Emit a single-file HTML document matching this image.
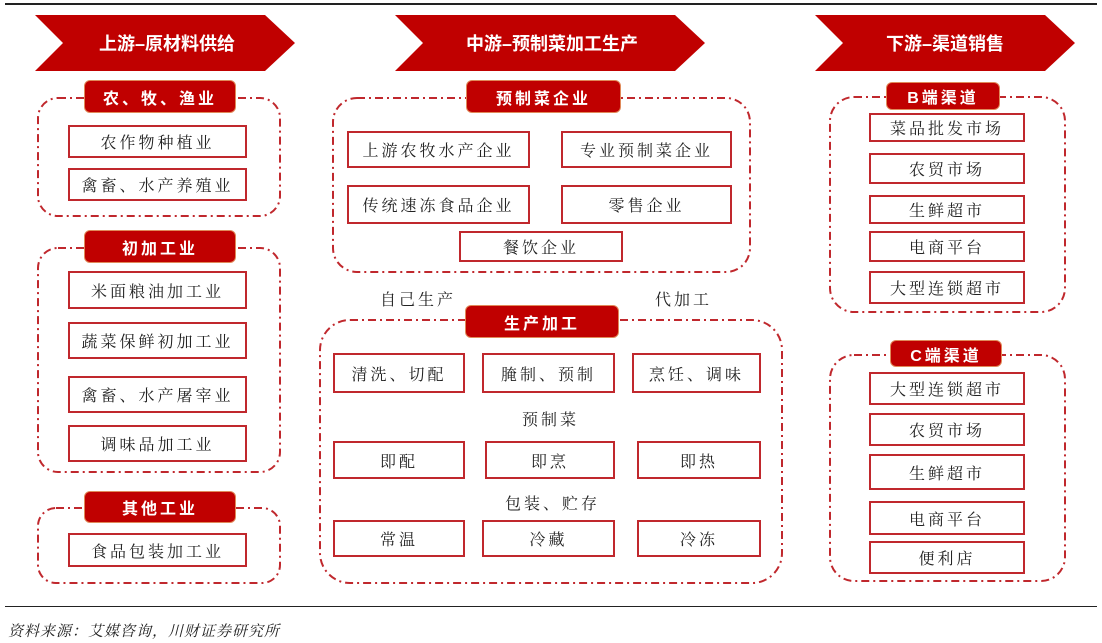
<!DOCTYPE html>
<html><head><meta charset="utf-8"><style>
body{margin:0;width:1102px;height:643px;background:#fff;position:relative;overflow:hidden;font-family:"Liberation Serif","Noto Serif CJK SC",serif;}
.a{position:absolute;box-sizing:border-box;}
.it{position:absolute;box-sizing:border-box;border:2px solid #c0282d;background:#fff;display:flex;align-items:center;justify-content:center;font-size:16px;letter-spacing:3px;color:#222;}
.lb{position:absolute;box-sizing:border-box;background:#c00000;border:1px solid #e08a5a;border-radius:6px;color:#fff;font-weight:bold;display:flex;align-items:center;justify-content:center;font-size:16px;letter-spacing:3px;font-family:"Liberation Sans","Noto Sans CJK SC",sans-serif;}
.tx{position:absolute;font-size:16px;letter-spacing:3px;color:#222;}
</style></head><body>
<div class="a" style="left:5px;top:3px;width:1092px;height:2px;background:#222"></div>
<div class="a" style="left:5px;top:606px;width:1092px;height:1px;background:#222"></div>
<div class="tx" style="left:8px;top:620px;font-style:italic;font-size:15px;letter-spacing:1px">资料来源：艾媒咨询，川财证券研究所</div>
<svg class="a" style="left:0;top:0" width="1102" height="643">
<g fill="#c00000">
<polygon points="35,15 265,15 295,43 265,71 35,71 63,43"/>
<polygon points="395,15 675,15 705,43 675,71 395,71 423,43"/>
<polygon points="815,15 1045,15 1075,43 1045,71 815,71 843,43"/>
</g>
<g fill="#fff" font-family="Liberation Sans,Noto Sans CJK SC,sans-serif" font-size="18" font-weight="bold" text-anchor="middle">
<text x="167" y="50">上游–原材料供给</text>
<text x="552" y="50">中游–预制菜加工生产</text>
<text x="945" y="50">下游–渠道销售</text>
</g>
<g fill="none" stroke="#c0282d" stroke-width="2" stroke-dasharray="8,4,2,4">
<rect x="38" y="98" width="242" height="118" rx="20"/>
<rect x="38" y="248" width="242" height="224" rx="20"/>
<rect x="38" y="508" width="242" height="75" rx="18"/>
<rect x="333" y="98" width="417" height="174" rx="24"/>
<rect x="320" y="320" width="462" height="263" rx="30"/>
<rect x="830" y="97" width="235" height="215" rx="24"/>
<rect x="830" y="355" width="235" height="226" rx="24"/>
</g>
</svg>
<div class="lb" style="left:84px;top:80px;width:152px;height:33px">农、牧、渔业</div>
<div class="it" style="left:68px;top:125px;width:179px;height:33px">农作物种植业</div>
<div class="it" style="left:68px;top:168px;width:179px;height:33px">禽畜、水产养殖业</div>
<div class="lb" style="left:84px;top:230px;width:152px;height:33px">初加工业</div>
<div class="it" style="left:68px;top:271px;width:179px;height:38px">米面粮油加工业</div>
<div class="it" style="left:68px;top:322px;width:179px;height:37px">蔬菜保鲜初加工业</div>
<div class="it" style="left:68px;top:376px;width:179px;height:37px">禽畜、水产屠宰业</div>
<div class="it" style="left:68px;top:425px;width:179px;height:37px">调味品加工业</div>
<div class="lb" style="left:84px;top:491px;width:152px;height:32px">其他工业</div>
<div class="it" style="left:68px;top:533px;width:179px;height:34px">食品包装加工业</div>

<div class="lb" style="left:466px;top:80px;width:155px;height:33px">预制菜企业</div>
<div class="it" style="left:347px;top:131px;width:183px;height:37px">上游农牧水产企业</div>
<div class="it" style="left:561px;top:131px;width:171px;height:37px">专业预制菜企业</div>
<div class="it" style="left:347px;top:185px;width:183px;height:39px">传统速冻食品企业</div>
<div class="it" style="left:561px;top:185px;width:171px;height:39px">零售企业</div>
<div class="it" style="left:459px;top:231px;width:164px;height:31px">餐饮企业</div>
<div class="tx" style="left:380px;top:287px">自己生产</div>
<div class="tx" style="left:655px;top:287px">代加工</div>
<div class="lb" style="left:465px;top:305px;width:154px;height:33px">生产加工</div>
<div class="it" style="left:333px;top:353px;width:132px;height:40px">清洗、切配</div>
<div class="it" style="left:482px;top:353px;width:133px;height:40px">腌制、预制</div>
<div class="it" style="left:632px;top:353px;width:129px;height:40px">烹饪、调味</div>
<div class="tx" style="left:522px;top:407px">预制菜</div>
<div class="it" style="left:333px;top:441px;width:132px;height:38px">即配</div>
<div class="it" style="left:485px;top:441px;width:130px;height:38px">即烹</div>
<div class="it" style="left:637px;top:441px;width:124px;height:38px">即热</div>
<div class="tx" style="left:505px;top:491px">包装、贮存</div>
<div class="it" style="left:333px;top:520px;width:132px;height:37px">常温</div>
<div class="it" style="left:482px;top:520px;width:133px;height:37px">冷藏</div>
<div class="it" style="left:637px;top:520px;width:124px;height:37px">冷冻</div>

<div class="lb" style="left:886px;top:82px;width:114px;height:28px">B端渠道</div>
<div class="it" style="left:869px;top:113px;width:156px;height:29px">菜品批发市场</div>
<div class="it" style="left:869px;top:153px;width:156px;height:31px">农贸市场</div>
<div class="it" style="left:869px;top:195px;width:156px;height:29px">生鲜超市</div>
<div class="it" style="left:869px;top:231px;width:156px;height:31px">电商平台</div>
<div class="it" style="left:869px;top:271px;width:156px;height:33px">大型连锁超市</div>
<div class="lb" style="left:890px;top:340px;width:112px;height:27px">C端渠道</div>
<div class="it" style="left:869px;top:372px;width:156px;height:33px">大型连锁超市</div>
<div class="it" style="left:869px;top:413px;width:156px;height:33px">农贸市场</div>
<div class="it" style="left:869px;top:454px;width:156px;height:36px">生鲜超市</div>
<div class="it" style="left:869px;top:501px;width:156px;height:34px">电商平台</div>
<div class="it" style="left:869px;top:541px;width:156px;height:33px">便利店</div>
</body></html>
